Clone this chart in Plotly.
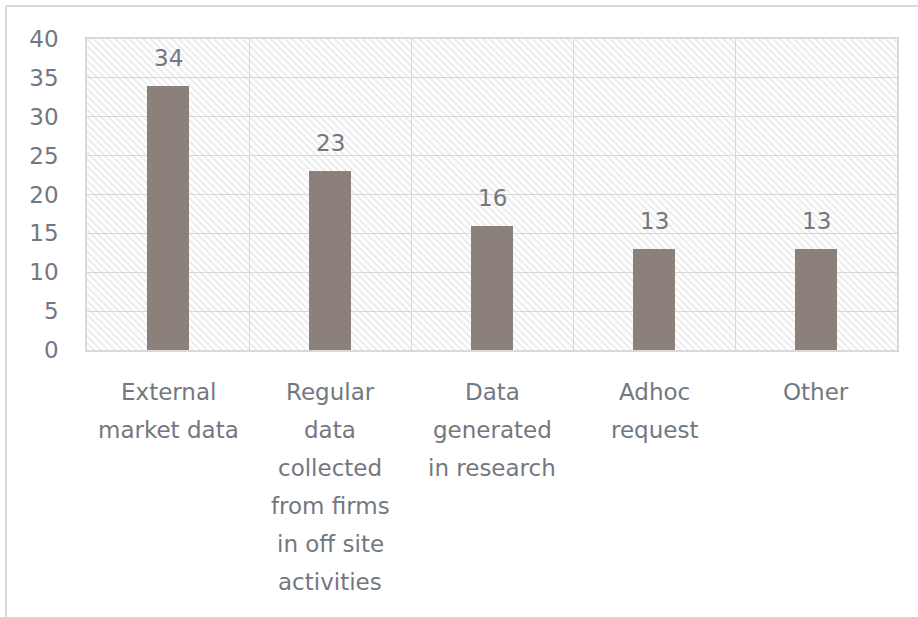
import plotly.graph_objects as go

# Survey responses by data source
categories = [
    "External\nmarket data",
    "Regular\ndata\ncollected\nfrom firms\nin off site\nactivities",
    "Data\ngenerated\nin research",
    "Adhoc\nrequest",
    "Other",
]
values = [34, 23, 16, 13, 13]
y_ticks = [0, 5, 10, 15, 20, 25, 30, 35, 40]

TEXT = "#737880"
GRID = "#d9d9d9"
BAR = "#8b807a"
FONT = "DejaVu Sans"
FS = 23

W, H = 918, 617
L, R, T, B = 87, 21, 39, 267
x_idx = list(range(len(categories)))

fig = go.Figure()

# hatched plot-area backdrop
fig.add_trace(go.Bar(
    x=[(len(categories) - 1) / 2], y=[y_ticks[-1]], width=[len(categories)],
    marker=dict(color="rgba(0,0,0,0)", line=dict(width=0),
                pattern=dict(shape="\\", size=5, solidity=0.35,
                             fgcolor="#d6d6d6", fillmode="overlay")),
    hoverinfo="skip", showlegend=False,
))

# data bars
fig.add_trace(go.Bar(
    x=x_idx, y=values, width=0.265,
    marker=dict(color=BAR, line=dict(width=0)),
    showlegend=False,
))

annotations = []
# value labels above bars
for i, v in zip(x_idx, values):
    annotations.append(dict(
        x=i, y=v, xref="x", yref="y", text=str(v), showarrow=False,
        yanchor="bottom", yshift=13, font=dict(family=FONT, size=FS, color=TEXT),
    ))
# category labels, one line each
for i, lab in zip(x_idx, categories):
    for j, line in enumerate(lab.split("\n")):
        annotations.append(dict(
            x=i, y=0, xref="x", yref="y", text=line, showarrow=False,
            yanchor="middle", yshift=-(42 + 38 * j),
            font=dict(family=FONT, size=FS, color=TEXT),
        ))

pw, ph = W - L - R, H - T - B
px = lambda p: (p - L) / pw
py = lambda p: (H - B - p) / ph
shapes = [
    dict(type="line", xref="paper", yref="paper", x0=px(6), x1=px(W + 2),
         y0=py(6), y1=py(6), line=dict(color=GRID, width=2)),
    dict(type="line", xref="paper", yref="paper", x0=px(6), x1=px(6),
         y0=py(6), y1=py(H + 2), line=dict(color=GRID, width=2)),
]

fig.update_layout(
    width=W, height=H,
    margin=dict(l=L, r=R, t=T, b=B),
    paper_bgcolor="white", plot_bgcolor="white",
    barmode="overlay", bargap=0,
    annotations=annotations, shapes=shapes,
    xaxis=dict(
        range=[-0.5, len(categories) - 0.5],
        tickvals=[i - 0.5 for i in range(len(categories) + 1)],
        ticktext=[""] * (len(categories) + 1),
        showgrid=True, gridcolor=GRID, gridwidth=1.3,
        showline=True, linecolor=GRID, linewidth=1.5, mirror=True,
        zeroline=False, ticks="",
    ),
    yaxis=dict(
        range=[0, 40], tickvals=y_ticks,
        showgrid=True, gridcolor=GRID, gridwidth=1.3,
        showline=True, linecolor=GRID, linewidth=1.5, mirror=True,
        zeroline=False, ticks="", ticklabelstandoff=22,
        tickfont=dict(family=FONT, size=FS, color=TEXT),
    ),
)

fig.write_html("out.html")
